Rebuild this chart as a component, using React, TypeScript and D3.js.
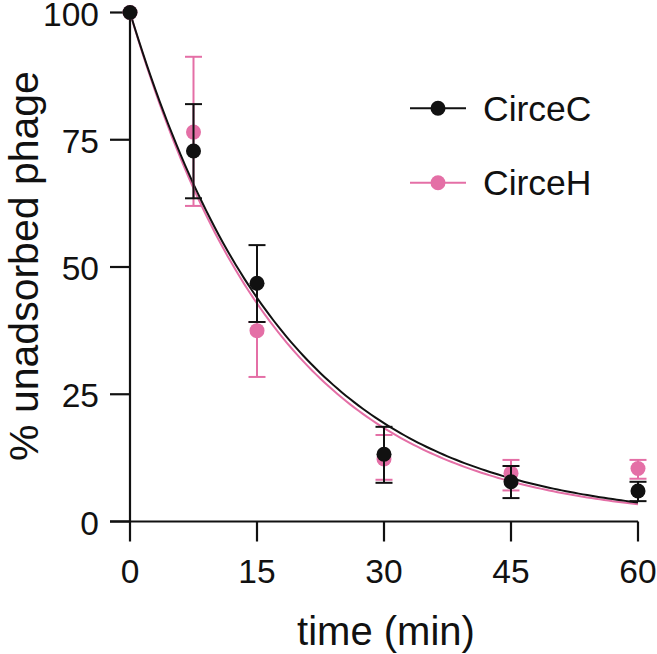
import { scaleLinear, line, range } from 'd3';

const W = 657;
const H = 654;
const X0 = 130;
const X1 = 638;
const Y0 = 521.5;
const Y1 = 12.5;

const times = [0, 7.5, 15, 30, 45, 60];
const xTicks = [0, 15, 30, 45, 60];
const yTicks = [0, 25, 50, 75, 100];

const circeC = [100, 72.8, 46.8, 13.2, 7.8, 6.0];
const circeCLo = [100, 63.5, 39.2, 7.6, 4.6, 4.0];
const circeCHi = [100, 82.0, 54.3, 18.6, 10.9, 7.8];

const circeH = [100, 76.5, 37.5, 12.3, 9.5, 10.4];
const circeHLo = [100, 62.0, 28.4, 8.2, 6.1, 8.4];
const circeHHi = [100, 91.3, 39.2, 17.0, 12.1, 12.1];

// one-phase decay fits (rate constants per min)
const kC = 0.0548;
const kH = 0.0565;

const BLACK = '#111';
const PINK = '#e46fa6';
const FONT = 'Liberation Sans, Arial, sans-serif';

const series = [
  { name: 'CirceH', color: PINK, v: circeH, lo: circeHLo, hi: circeHHi, k: kH },
  { name: 'CirceC', color: BLACK, v: circeC, lo: circeCLo, hi: circeCHi, k: kC },
];

export default function App() {
  const x = scaleLinear().domain([0, 60]).range([X0, X1]);
  const y = scaleLinear().domain([0, 100]).range([Y0, Y1]);
  const fitLine = line<number[]>()
    .x((d) => x(d[0]))
    .y((d) => y(d[1]));

  return (
    <svg width={W} height={H} style={{ position: 'absolute', left: 0, top: 0 }} fontFamily={FONT}>
      <rect width={W} height={H} fill="#fff" />
      {/* axes */}
      <line x1={X0} x2={X0} y1={Y1} y2={Y0} stroke={BLACK} strokeWidth={2.2} />
      <line x1={X0 - 20} x2={X1} y1={Y0} y2={Y0} stroke={BLACK} strokeWidth={2.2} />
      {yTicks.map((t) => (
        <g key={t}>
          <line x1={X0 - 20} x2={X0} y1={y(t)} y2={y(t)} stroke={BLACK} strokeWidth={2.2} />
          <text x={X0 - 31} y={y(t) + 13} textAnchor="end" fontSize={33.5} fill={BLACK}>
            {t}
          </text>
        </g>
      ))}
      {xTicks.map((t) => (
        <g key={t}>
          <line x1={x(t)} x2={x(t)} y1={Y0} y2={Y0 + 20} stroke={BLACK} strokeWidth={2.2} />
          <text x={x(t)} y={583} textAnchor="middle" fontSize={33.5} fill={BLACK}>
            {t}
          </text>
        </g>
      ))}
      <text x={386} y={645} textAnchor="middle" fontSize={40} fill={BLACK}>
        time (min)
      </text>
      <text
        transform={`translate(38, 266) rotate(-90)`}
        textAnchor="middle"
        fontSize={41}
        fill={BLACK}
      >
        % unadsorbed phage
      </text>

      {/* fit curves */}
      {series.map((s) => (
        <path
          key={s.name + 'fit'}
          d={fitLine(range(0, 60.01, 0.5).map((t) => [t, 100 * Math.exp(-s.k * t)])) || ''}
          fill="none"
          stroke={s.color}
          strokeWidth={2}
        />
      ))}

      {/* error bars and points */}
      {series.map((s) => (
        <g key={s.name}>
          {times.map((t, i) =>
            i === 0 ? null : (
              <g key={t} stroke={s.color} strokeWidth={2}>
                <line x1={x(t)} x2={x(t)} y1={y(s.lo[i])} y2={y(s.hi[i])} />
                <line x1={x(t) - 8.5} x2={x(t) + 8.5} y1={y(s.lo[i])} y2={y(s.lo[i])} />
                <line x1={x(t) - 8.5} x2={x(t) + 8.5} y1={y(s.hi[i])} y2={y(s.hi[i])} />
              </g>
            )
          )}
          {times.map((t, i) => (
            <circle key={t} cx={x(t)} cy={y(s.v[i])} r={7.5} fill={s.color} />
          ))}
        </g>
      ))}

      {/* legend */}
      {[...series].reverse().map((s, i) => {
        const ly = 108.3 + i * 74.4;
        return (
          <g key={s.name + 'leg'}>
            <line x1={410} x2={466} y1={ly} y2={ly} stroke={s.color} strokeWidth={2} />
            <circle cx={438} cy={ly} r={7.5} fill={s.color} />
            <text x={483} y={ly + 12.5} fontSize={35.5} fill={BLACK}>
              {s.name}
            </text>
          </g>
        );
      })}
    </svg>
  );
}
